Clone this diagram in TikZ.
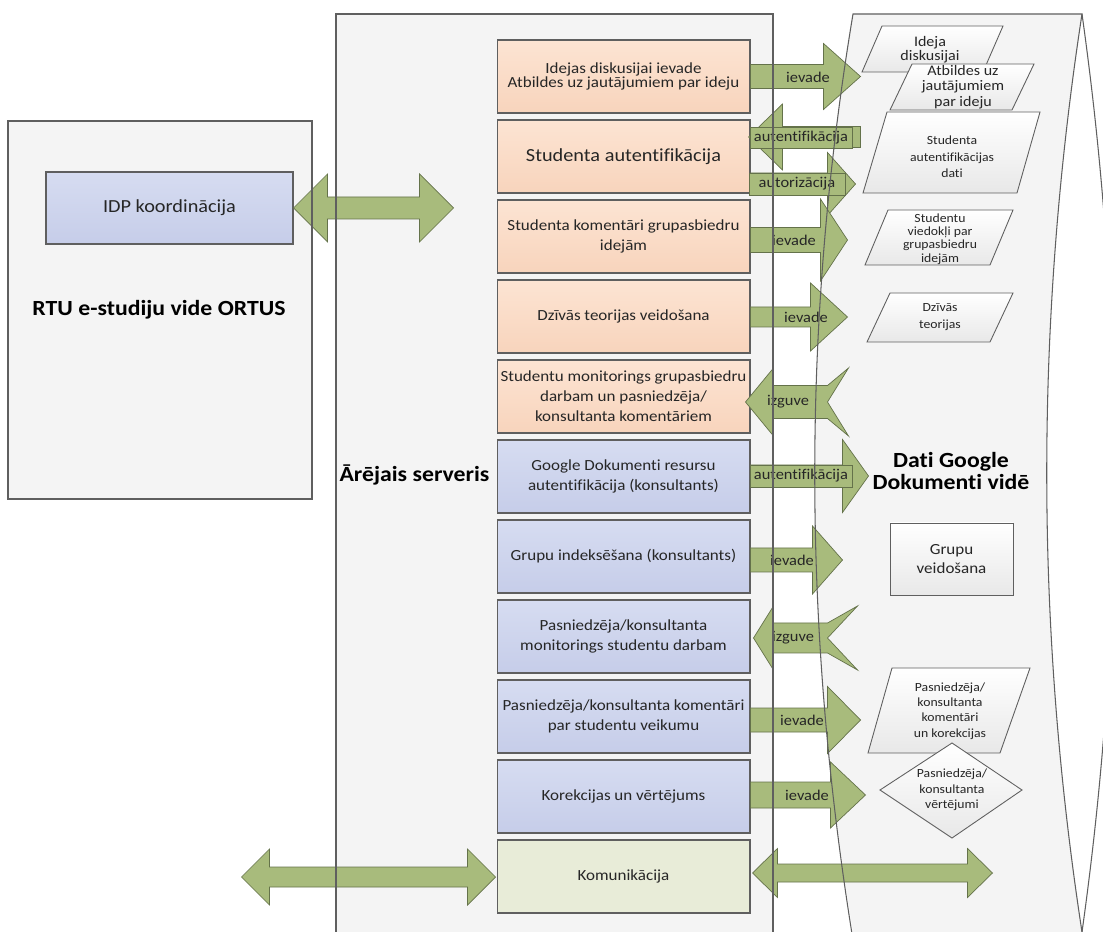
\documentclass[tikz,border=0pt]{standalone}
\usepackage{fontspec}
\setmainfont{Carlito}[FakeStretch=1.1,Ligatures=CommonOff]
\usetikzlibrary{calc}

\definecolor{peach}{RGB}{248,212,188}
\definecolor{peachtop}{RGB}{252,228,211}
\definecolor{lavender}{RGB}{198,205,233}
\definecolor{lavtop}{RGB}{214,220,241}
\definecolor{palegreen}{RGB}{232,236,216}
\definecolor{olive}{RGB}{168,187,124}
\definecolor{olivedark}{RGB}{100,114,74}
\definecolor{edgegray}{RGB}{95,95,95}
\definecolor{panel}{RGB}{244,244,244}
\definecolor{txt}{RGB}{38,38,38}

% block arrows: start, lengths, half widths
\newcommand{\rblock}[5]{\draw[blockarr] #1 ++(0,-#4) -- ++(#2,0) -- ++(0,{#4-#5}) -- ++(#3,#5) -- ++(-#3,#5) -- ++(0,{#4-#5}) -- ++(-#2,0) -- cycle;}
\newcommand{\lblock}[5]{\draw[blockarr] #1 -- ++(#2,-#5) -- ++(0,{#5-#4}) -- ++(#3,0) -- ++(0,{2*#4}) -- ++(-#3,0) -- ++(0,{#5-#4}) -- cycle;}
\newcommand{\dblock}[5]{\draw[blockarr] #1 -- ++(#2,-#5) -- ++(0,{#5-#4}) -- ++(#3,0) -- ++(0,{#4-#5}) -- ++(#2,#5) -- ++(-#2,#5) -- ++(0,{#4-#5}) -- ++(-#3,0) -- ++(0,{#5-#4}) -- cycle;}
\newcommand{\nblock}[7]{\draw[blockarr] #1 -- ++(#2,-#6) -- ++(0,{#6-#5}) -- ++(#3,0) -- ++(#4,{#5-#6}) -- ++(-#7,#6) -- ++(#7,#6) -- ++(-#4,{#5-#6}) -- ++(-#3,0) -- ++(0,{#6-#5}) -- cycle;}

\begin{document}
\begin{tikzpicture}[x=0.02cm,y=-0.02cm,
  procbox/.style={draw=edgegray,line width=0.6pt,minimum width=5.06cm,minimum height=1.46cm,
    inner xsep=0.5pt,align=center,text=txt,font=\fontsize{8.8}{11.3}\selectfont},
  stud/.style={procbox,top color=peachtop,bottom color=peach},
  cons/.style={procbox,top color=lavtop,bottom color=lavender},
  comm/.style={procbox,fill=palegreen},
  blockarr/.style={draw=olivedark,line width=0.4pt,fill=olive},
  arrlbl/.style={text=txt,font=\fontsize{8.5}{8.5}\selectfont,inner sep=1pt},
  arrtag/.style={arrlbl,draw=olivedark,fill=olive,line width=0.4pt},
  datashape/.style={draw=edgegray,line width=0.5pt,top color=white,bottom color=gray!18},
  datatxt/.style={text=txt,align=center,font=\fontsize{7.1}{8.8}\selectfont},
  panelline/.style={draw=edgegray,line width=0.6pt},
  title/.style={text=black,align=center,font=\bfseries\fontsize{12.3}{12.5}\selectfont}]
  \useasboundingbox (0,0) rectangle (1103,932);
  \clip (0,0) rectangle (1103,932);

  % panels
  \fill[panel] (8,121) rectangle (312,499);
  \fill[panel] (336,14) rectangle (773,940);
  \fill[panel] (853,14) -- (1082,14) .. controls (1035,320) and (1035,626) .. (1082,932)
    -- (853,932) .. controls (802,626) and (802,320) .. (853,14) -- cycle;

  \node[cons,minimum width=4.94cm,minimum height=1.44cm,font=\fontsize{10.5}{12}\selectfont] (idp) at (169.5,208) {IDP koordinācija};

  % server functions
  \node[stud,font=\fontsize{8.8}{8.4}\selectfont] (idea) at (623.5,76.5) {Idejas diskusijai ievade\\Atbildes uz jautājumiem par ideju};
  \node[stud,font=\fontsize{10.5}{12}\selectfont] (auth) at (623.5,156.5) {Studenta autentifikācija};
  \node[stud] (kom) at (623.5,236.5) {Studenta komentāri grupasbiedru\\idejām};
  \node[stud] (teor) at (623.5,316.5) {Dzīvās teorijas veidošana};
  \node[stud] (mon) at (623.5,396.5) {Studentu monitorings grupasbiedru\\darbam un pasniedzēja/\\konsultanta komentāriem};
  \node[cons] (gauth) at (623.5,476.5) {Google Dokumenti resursu\\autentifikācija (konsultants)};
  \node[cons] (grp) at (623.5,556.5) {Grupu indeksēšana (konsultants)};
  \node[cons] (pmon) at (623.5,636.5) {Pasniedzēja/konsultanta\\monitorings studentu darbam};
  \node[cons] (pkom) at (623.5,716.5) {Pasniedzēja/konsultanta komentāri\\par studentu veikumu};
  \node[cons] (kor) at (623.5,796.5) {Korekcijas un vērtējums};
  \node[comm] (komm) at (623.5,876.5) {Komunikācija};

  % block arrows
  \dblock{(idp.east)}{34}{92}{11}{34}
  \rblock{(idea.east)}{73}{37}{12}{33}
  \lblock{(auth.east) ++(-2,-19.5)}{34}{78}{10.5}{33}
  \rblock{(auth.east) ++(0,27.5)}{77}{28}{11}{31.5}
  \rblock{(kom.east) ++(0,3.5)}{70}{27}{12.5}{41}
  \rblock{(teor.east) ++(0,0.5)}{60}{37}{10}{34}
  \nblock{(mon.east) ++(-5,5.5)}{28}{54}{21}{16.5}{34}{21}
  \rblock{(gauth.east) ++(0,-0.5)}{92}{26}{11}{36.5}
  \rblock{(grp.east) ++(0,3.5)}{62}{30}{12}{34}
  \nblock{(pmon.east) ++(3,1.5)}{20}{54}{30}{15}{32}{30}
  \rblock{(pkom.east) ++(0,3.5)}{77}{33}{12}{33.5}
  \rblock{(kor.east) ++(0,-1.5)}{80}{35}{13}{33}
  \dblock{(komm.east) ++(2,-3.5)}{25}{190}{9}{24.5}
  \dblock{(komm.west) ++(-255,0.5)}{28}{198}{10}{28}

  \node[arrlbl] (l0) at (808,77) {ievade};
  \node[arrtag,minimum width=2.04cm,minimum height=0.42cm] (l1) at (801,137.5) {autentifikācija};
  \node[arrtag,minimum width=1.92cm,minimum height=0.44cm] (l1r) at (797,184) {autorizācija};
  \node[arrlbl] (l2) at (794,240) {ievade};
  \node[arrlbl] (l3) at (806,317) {ievade};
  \node[arrlbl] (l4) at (788,402) {izguve};
  \node[arrtag,minimum width=2.04cm,minimum height=0.44cm] (l5) at (801,476) {autentifikācija};
  \node[arrlbl] (l6) at (792,560) {ievade};
  \node[arrlbl] (l7) at (793,638) {izguve};
  \node[arrlbl] (l8) at (802,720) {ievade};
  \node[arrlbl] (l9) at (807,795) {ievade};

  % panel outlines over the arrows
  \draw[panelline] (8,121) rectangle (312,499);
  \draw[panelline] (336,940) -- (336,14) -- (773,14) -- (773,940);
  \draw[panelline] (853,940) .. controls (802,626) and (802,320) .. (853,14) -- (1082,14)
    .. controls (1035,320) and (1035,626) .. (1082,932);
  \draw[panelline] (1082,14) .. controls (1125,320) and (1125,626) .. (1082,932);

  % data in Google Dokumenti
  \draw[datashape] (882,26) -- (1003,26) -- (983,72) -- (862,72) -- cycle;
  \node[datatxt,font=\fontsize{8.3}{8}\selectfont] (dIdea) at (930,50) {Ideja\\diskusijai};
  \draw[datashape] (912,64) -- (1034,64) -- (1012,110) -- (890,110) -- cycle;
  \node[datatxt,font=\fontsize{8.3}{8.8}\selectfont] (dAnsw) at (963,87) {Atbildes uz\\jautājumiem\\par ideju};
  \draw[datashape] (887,112) -- (1040,112) -- (1017,193) -- (863,193) -- cycle;
  \node[datatxt,font=\fontsize{7.1}{9.4}\selectfont] (dAuth) at (952,157) {Studenta\\autentifikācijas\\dati};
  \draw[datashape] (888,210) -- (1013,210) -- (990,265) -- (865,265) -- cycle;
  \node[datatxt,font=\fontsize{7.1}{7.6}\selectfont] (dView) at (940,239) {Studentu\\viedokļi par\\grupasbiedru\\idejām};
  \draw[datashape] (890,293) -- (1013,293) -- (990,342) -- (867,342) -- cycle;
  \node[datatxt,font=\fontsize{7.1}{9.4}\selectfont] (dTeor) at (940,317) {Dzīvās\\teorijas};
  \draw[datashape] (890,523) rectangle (1013,595);
  \node[datatxt,font=\fontsize{8.8}{11.3}\selectfont] (dGrp) at (951.5,559) {Grupu\\veidošana};
  \draw[datashape] (892,668) -- (1030,668) -- (1000,753) -- (868,753) -- cycle;
  \node[datatxt] (dKom) at (950,711) {Pasniedzēja/\\konsultanta\\komentāri\\un korekcijas};
  \draw[datashape] (952,743) -- (1022,790) -- (952,838) -- (880,790) -- cycle;
  \node[datatxt] (dVert) at (952,790) {Pasniedzēja/\\konsultanta\\vērtējumi};

  % titles
  \node[title] (ortus) at (159,310) {RTU e-studiju vide ORTUS};
  \node[title] (server) at (414.5,475) {Ārējais serveris};
  \node[title] (gdocs) at (951,471) {Dati Google\\Dokumenti vidē};
\end{tikzpicture}
\end{document}
